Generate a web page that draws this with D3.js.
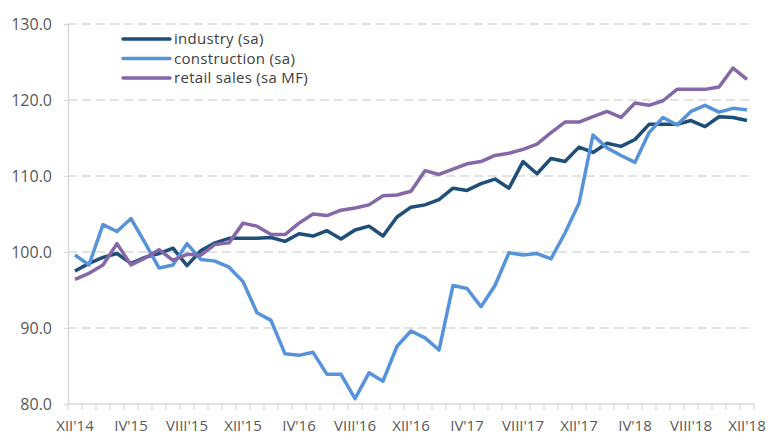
<!DOCTYPE html>
<html>
<head>
<meta charset="utf-8">
<script src="https://cdn.jsdelivr.net/npm/d3@7"></script>
<style>
  body { margin: 0; background: #fff; }
  text { font-family: "Open Sans", "Noto Sans", sans-serif; }
</style>
</head>
<body>
<svg id="chart" width="768" height="434"></svg>
<script>
// months XII'14 .. XII'18
var romans = ["I","II","III","IV","V","VI","VII","VIII","IX","X","XI","XII"];
var months = [];
for (var k = 0; k < 49; k++) {
  var mIdx = (11 + k) % 12, yr = 14 + Math.floor((11 + k) / 12);
  months.push(romans[mIdx] + "'" + yr);
}

var industry = [97.5, 98.5, 99.3, 99.8, 98.5, 99.3, 99.8, 100.5, 98.2, 100.2, 101.2, 101.8,
  101.8, 101.8, 101.9, 101.4, 102.4, 102.1, 102.8, 101.7, 102.9, 103.4, 102.1, 104.6,
  105.9, 106.2, 106.9, 108.4, 108.1, 109.0, 109.6, 108.4, 111.9, 110.3, 112.3, 111.9,
  113.8, 113.1, 114.3, 113.9, 114.8, 116.8, 116.8, 116.8, 117.3, 116.5, 117.8, 117.7, 117.3];
var construction = [99.6, 98.3, 103.6, 102.7, 104.4, 101.2, 97.9, 98.3, 101.1, 99.0, 98.8, 98.0,
  96.1, 92.0, 91.0, 86.6, 86.4, 86.8, 83.9, 83.9, 80.7, 84.1, 83.0, 87.6,
  89.6, 88.7, 87.1, 95.6, 95.2, 92.8, 95.6, 99.9, 99.6, 99.8, 99.1, 102.5,
  106.4, 115.4, 113.7, 112.7, 111.8, 115.7, 117.7, 116.7, 118.5, 119.3, 118.4, 118.9, 118.7];
var retail = [96.4, 97.2, 98.3, 101.1, 98.3, 99.2, 100.3, 98.9, 99.7, 99.6, 101.0, 101.2,
  103.8, 103.4, 102.3, 102.3, 103.8, 105.0, 104.8, 105.5, 105.8, 106.2, 107.4, 107.5,
  108.0, 110.7, 110.2, 110.9, 111.6, 111.9, 112.7, 113.0, 113.5, 114.2, 115.7, 117.1,
  117.1, 117.8, 118.5, 117.7, 119.6, 119.3, 119.9, 121.4, 121.4, 121.4, 121.7, 124.2, 122.7];

var seriesNames = ["industry (sa)", "construction (sa)", "retail sales (sa MF)"];
var seriesColors = ["#1F4E79", "#5693DA", "#8468A8"];
var yTicks = [80, 90, 100, 110, 120, 130];

var series = [industry, construction, retail].map(function(vals, i) {
  return { name: seriesNames[i], color: seriesColors[i], values: vals };
});

var svg = d3.select("#chart");
var plot = { left: 68, right: 754, top: 24, bottom: 404 };

var x = d3.scaleBand().domain(months).range([plot.left, plot.right]).padding(0);
var yScale = d3.scaleLinear().domain([80, 130]).range([plot.bottom, plot.top]);

// gridlines
svg.append("g").selectAll("line").data(yTicks.slice(1)).enter().append("line")
  .attr("x1", plot.left).attr("x2", plot.right)
  .attr("y1", function(d) { return yScale(d) })
  .attr("y2", function(d) { return yScale(d) })
  .attr("stroke", "#D9D9D9").attr("stroke-width", 1.5)
  .attr("stroke-dasharray", "9,5");

// y axis
var yAxis = svg.append("g").attr("transform", "translate(" + plot.left + ",0)")
  .call(d3.axisLeft(yScale).tickValues(yTicks).tickFormat(d3.format(".1f")).tickSize(4).tickPadding(12));
yAxis.select(".domain").attr("stroke", "#D9D9D9").attr("stroke-width", 1.5);
yAxis.selectAll(".tick line").attr("stroke", "#D9D9D9");
yAxis.selectAll("text").attr("fill", "#595959").style("font-size", "16px")
  .style("font-family", "'Open Sans', sans-serif");

// x axis
var xAxis = svg.append("g").attr("transform", "translate(0," + plot.bottom + ")");
xAxis.append("line").attr("x1", plot.left).attr("x2", plot.right).attr("y1", 0).attr("y2", 0)
  .attr("stroke", "#D9D9D9").attr("stroke-width", 1.5);
var bounds = months.map(function(m) { return x(m) }).concat([plot.right]);
xAxis.selectAll("line.tk").data(bounds).enter().append("line").attr("class", "tk")
  .attr("x1", function(d) { return d }).attr("x2", function(d) { return d })
  .attr("y1", 0).attr("y2", 6)
  .attr("stroke", "#D9D9D9").attr("stroke-width", 1.2);
xAxis.selectAll("text").data(months.filter(function(d, i) { return i % 4 == 0 })).enter().append("text")
  .attr("x", function(d) { return x(d) + x.bandwidth() / 2 })
  .attr("y", 27)
  .attr("text-anchor", "middle")
  .attr("fill", "#595959").style("font-size", "15px")
  .text(function(d) { return d });

// lines
var line = d3.line()
  .x(function(d, i) { return x(months[i]) + x.bandwidth() / 2 })
  .y(function(d) { return yScale(d) });

svg.append("g").selectAll("path").data(series).enter().append("path")
  .attr("d", function(s) { return line(s.values) })
  .attr("fill", "none")
  .attr("stroke", function(s) { return s.color })
  .attr("stroke-width", 3.5)
  .attr("stroke-linejoin", "round");

// legend
var legend = svg.append("g").selectAll("g").data(series).enter().append("g")
  .attr("transform", function(d, i) { return "translate(123," + (39 + i * 19.5) + ")" });
legend.append("line").attr("x1", 0).attr("x2", 47).attr("y1", 0).attr("y2", 0)
  .attr("stroke", function(d) { return d.color }).attr("stroke-width", 3.5).attr("stroke-linecap", "round");
legend.append("text").attr("x", 51).attr("y", 5)
  .attr("fill", "#404040").style("font-size", "15px").style("letter-spacing", "0.3px")
  .text(function(d) { return d.name });
</script>
</body>
</html>
